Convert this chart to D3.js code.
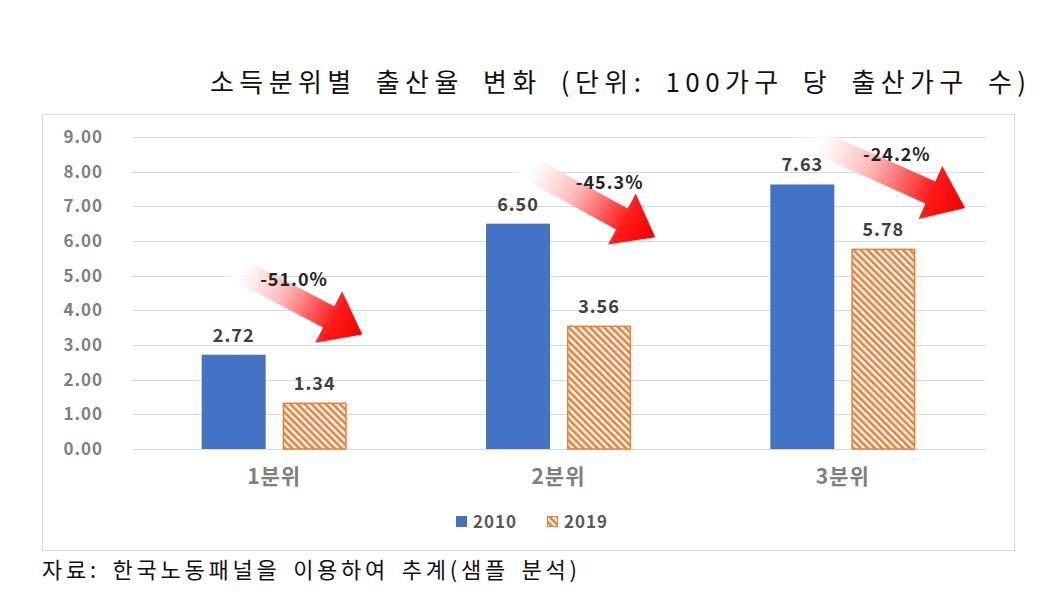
<!DOCTYPE html>
<html>
<head>
<meta charset="utf-8">
<script src="https://cdn.jsdelivr.net/npm/d3@7"></script>
<style>
  body { margin: 0; background: #fff; }
  text { font-family: "Noto Sans CJK KR", "Noto Sans", sans-serif; }
</style>
</head>
<body>
<div id="chart"></div>
<script>
// data
var categories = ["1분위", "2분위", "3분위"];
var seriesNames = ["2010", "2019"];
var values2010 = [2.72, 6.50, 7.63];
var values2019 = [1.34, 3.56, 5.78];
var changeLabels = ["-51.0%", "-45.3%", "-24.2%"];
var yTicks = [0, 1, 2, 3, 4, 5, 6, 7, 8, 9];

var W = 1063, H = 601;
var svg = d3.select("#chart").append("svg").attr("width", W).attr("height", H);

var defs = svg.append("defs");
var hatch = defs.append("pattern")
	.attr("id", "hatch")
	.attr("patternUnits", "userSpaceOnUse")
	.attr("width", 5).attr("height", 5)
	.attr("patternTransform", "rotate(-45)");
hatch.append("rect").attr("width", 5).attr("height", 5).attr("fill", "#fff");
hatch.append("rect").attr("x", 0).attr("width", 2.6).attr("height", 5).attr("fill", "#ed7d31");

// chart frame
svg.append("rect")
	.attr("x", 42.5).attr("y", 114.5)
	.attr("width", 972).attr("height", 436)
	.attr("fill", "#fff").attr("stroke", "#d9d9d9");

// title
svg.append("text")
	.attr("x", 210).attr("y", 92)
	.attr("font-size", 26).attr("font-weight", 400).attr("fill", "#111")
	.attr("letter-spacing", 2).attr("word-spacing", 8)
	.attr("textLength", 818).attr("lengthAdjust", "spacing")
	.text("소득분위별 출산율 변화 (단위: 100가구 당 출산가구 수)");

var x = d3.scaleBand().domain(categories).range([132, 985]).padding(0);
var bw = x.bandwidth();
var xs = d3.scaleBand().domain(seriesNames)
	.range([bw * 0.245, bw * 0.755]).paddingInner(0.21).paddingOuter(0);
var y = d3.scaleLinear().domain([0, 9]).range([449, 137]);

// gridlines
svg.append("g").selectAll("line").data(yTicks).enter().append("line")
	.attr("x1", 132).attr("x2", 985)
	.attr("y1", function(d) { return Math.round(y(d)) + 0.5; })
	.attr("y2", function(d) { return Math.round(y(d)) + 0.5; })
	.attr("stroke", "#d9d9d9").attr("stroke-width", 1.2);

// y axis
var yAxis = svg.append("g").attr("transform", "translate(103,0)")
	.call(d3.axisLeft(y).tickValues(yTicks).tickFormat(d3.format(".2f")).tickSize(0).tickPadding(0));
yAxis.select(".domain").remove();
yAxis.selectAll("text")
	.attr("font-size", 17).attr("font-weight", 700).attr("fill", "#7f7f7f")
	.attr("letter-spacing", 1)
	.style("font-family", "\"Noto Sans CJK KR\", sans-serif");

// x axis
var xAxis = svg.append("g").attr("transform", "translate(0,449)")
	.call(d3.axisBottom(x).tickSize(0).tickPadding(20));
xAxis.select(".domain").remove();
xAxis.selectAll("text")
	.attr("font-size", 21).attr("font-weight", 700).attr("fill", "#7f7f7f")
	.attr("letter-spacing", 1)
	.style("font-family", "\"Noto Sans CJK KR\", sans-serif");

var rows = categories.map(function(c, i) {
	return { cat: c, vals: [
		{ s: "2010", v: values2010[i] },
		{ s: "2019", v: values2019[i] }
	] };
});

var groups = svg.append("g").selectAll("g").data(rows).enter().append("g")
	.attr("transform", function(d) { return "translate(" + x(d.cat) + ",0)"; });

groups.selectAll("rect").data(function(d) { return d.vals; }).enter().append("rect")
	.attr("x", function(d) { return xs(d.s) + (d.s == "2019" ? 0.75 : 0); })
	.attr("y", function(d) { return y(d.v) + (d.s == "2019" ? 0.75 : 0); })
	.attr("width", function(d) { return xs.bandwidth() - (d.s == "2019" ? 1.5 : 0); })
	.attr("height", function(d) { return y(0) - y(d.v) - (d.s == "2019" ? 0.75 : 0); })
	.attr("fill", function(d) { return d.s == "2010" ? "#4472c4" : "url(#hatch)"; })
	.attr("stroke", function(d) { return d.s == "2010" ? "none" : "#ed7d31"; })
	.attr("stroke-width", 1.5);

groups.selectAll("text.val").data(function(d) { return d.vals; }).enter().append("text")
	.attr("class", "val")
	.attr("x", function(d) { return xs(d.s) + xs.bandwidth() / 2; })
	.attr("y", function(d) { return y(d.v) - 13; })
	.attr("text-anchor", "middle")
	.attr("font-size", 18).attr("font-weight", 700).attr("fill", "#404040")
	.attr("letter-spacing", 1)
	.text(function(d) { return d.v.toFixed(2); });

// change arrows: start / tip given as (fraction of band, y value)
var arrows = [
	{ f0: 0.31, v0: 5.45, f1: 0.81, v1: 3.30 },
	{ f0: 0.33, v0: 8.40, f1: 0.84, v1: 6.11 },
	{ f0: 0.33, v0: 9.15, f1: 0.93, v1: 6.95 }
];

function arrowPoints(x0, y0, x1, y1) {
	var dx = x1 - x0, dy = y1 - y0, len = Math.sqrt(dx * dx + dy * dy);
	var ux = dx / len, uy = dy / len, nx = -uy, ny = ux;
	var sw = 12, hw = 29, hl = 38;
	var bx = x1 - ux * hl, by = y1 - uy * hl;
	return [
		[x0 + nx * sw, y0 + ny * sw],
		[bx + nx * sw, by + ny * sw],
		[bx + nx * hw, by + ny * hw],
		[x1, y1],
		[bx - nx * hw, by - ny * hw],
		[bx - nx * sw, by - ny * sw],
		[x0 - nx * sw, y0 - ny * sw]
	];
}

arrows.forEach(function(a, i) {
	var x0 = x(categories[i]) + a.f0 * bw, y0 = y(a.v0);
	var x1 = x(categories[i]) + a.f1 * bw, y1 = y(a.v1);
	var g = defs.append("linearGradient")
		.attr("id", "grad" + i)
		.attr("gradientUnits", "userSpaceOnUse")
		.attr("x1", x0).attr("y1", y0).attr("x2", x1).attr("y2", y1);
	g.append("stop").attr("offset", 0).attr("stop-color", "#fff").attr("stop-opacity", 0.2);
	g.append("stop").attr("offset", 0.15).attr("stop-color", "#fff").attr("stop-opacity", 0.85);
	g.append("stop").attr("offset", 0.45).attr("stop-color", "#ffb8b8");
	g.append("stop").attr("offset", 0.8).attr("stop-color", "#ff1a1a");
	g.append("stop").attr("offset", 1).attr("stop-color", "#f00000");
	svg.append("polygon")
		.attr("points", arrowPoints(x0, y0, x1, y1).map(function(p) { return p.join(","); }).join(" "))
		.attr("fill", "url(#grad" + i + ")");
});

// change labels
var changePos = [
	{ f: 0.57, v: 4.70 },
	{ f: 0.68, v: 7.50 },
	{ f: 0.69, v: 8.30 }
];
svg.append("g").selectAll("text").data(changeLabels).enter().append("text")
	.attr("x", function(d, i) { return x(categories[i]) + changePos[i].f * bw; })
	.attr("y", function(d, i) { return y(changePos[i].v); })
	.attr("text-anchor", "middle")
	.attr("font-size", 18).attr("font-weight", 700).attr("fill", "#262626")
	.attr("letter-spacing", 1)
	.text(function(d) { return d; });

// legend
var legend = svg.append("g").attr("transform", "translate(456,516)");
var items = legend.selectAll("g").data(seriesNames).enter().append("g")
	.attr("transform", function(d, i) { return "translate(" + (i * 91) + ",0)"; });
items.append("rect")
	.attr("x", function(d) { return d == "2019" ? 0.5 : 0; })
	.attr("y", function(d) { return d == "2019" ? 0.5 : 0; })
	.attr("width", function(d) { return d == "2019" ? 10 : 11; })
	.attr("height", function(d) { return d == "2019" ? 10 : 11; })
	.attr("fill", function(d) { return d == "2010" ? "#4472c4" : "url(#hatch)"; })
	.attr("stroke", function(d) { return d == "2010" ? "none" : "#ed7d31"; });
items.append("text")
	.attr("x", 17).attr("y", 12)
	.attr("font-size", 17).attr("font-weight", 700).attr("fill", "#595959")
	.attr("letter-spacing", 1)
	.text(function(d) { return d; });

// source note
svg.append("text")
	.attr("x", 42).attr("y", 578)
	.attr("font-size", 22).attr("font-weight", 400).attr("fill", "#111")
	.attr("word-spacing", 4)
	.attr("textLength", 535).attr("lengthAdjust", "spacing")
	.text("자료: 한국노동패널을 이용하여 추계(샘플 분석)");
</script>
</body>
</html>
